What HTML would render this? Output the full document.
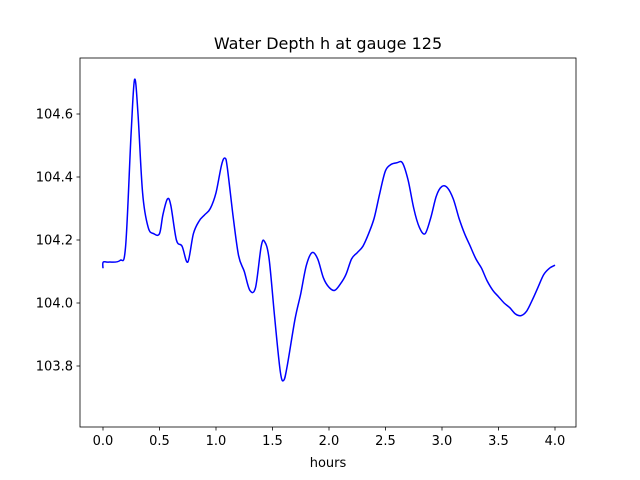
<!DOCTYPE html>
<html><head><meta charset="utf-8"><style>body{margin:0;background:#fff}svg{display:block;font-family:"DejaVu Sans","Liberation Sans",sans-serif}</style></head>
<body>
<svg id="chart" width="640" height="480"></svg>
<script>
const times=[0,0.002,0.05,0.15,0.2,0.25,0.28,0.31,0.35,0.4,0.45,0.5,0.53,0.57,0.6,0.65,0.7,0.75,0.8,0.85,0.9,0.95,1.0,1.05,1.08,1.1,1.15,1.2,1.25,1.3,1.35,1.4,1.43,1.47,1.52,1.57,1.6,1.63,1.7,1.75,1.8,1.85,1.9,1.95,2.0,2.05,2.1,2.15,2.2,2.25,2.3,2.35,2.4,2.45,2.5,2.55,2.6,2.65,2.7,2.75,2.8,2.85,2.9,2.95,3.0,3.05,3.1,3.15,3.2,3.25,3.3,3.35,3.4,3.45,3.5,3.55,3.6,3.65,3.7,3.75,3.8,3.85,3.9,3.95,4.0];
const depths=[104.11,104.13,104.13,104.135,104.18,104.55,104.71,104.6,104.35,104.24,104.22,104.22,104.28,104.33,104.31,104.2,104.18,104.13,104.22,104.26,104.28,104.30,104.35,104.44,104.46,104.43,104.28,104.15,104.10,104.04,104.05,104.18,104.195,104.14,103.95,103.78,103.755,103.8,103.95,104.03,104.12,104.16,104.14,104.08,104.05,104.04,104.06,104.09,104.14,104.16,104.18,104.22,104.27,104.35,104.42,104.44,104.445,104.445,104.39,104.3,104.24,104.22,104.27,104.34,104.37,104.365,104.33,104.27,104.22,104.18,104.14,104.11,104.07,104.04,104.02,104.00,103.985,103.965,103.96,103.975,104.01,104.05,104.09,104.11,104.12];
const xTicks=[0,0.5,1,1.5,2,2.5,3,3.5,4];
const xTickLabels=["0.0","0.5","1.0","1.5","2.0","2.5","3.0","3.5","4.0"];
const yTicks=[103.8,104.0,104.2,104.4,104.6];
const yTickLabels=["103.8","104.0","104.2","104.4","104.6"];
const L=80,R=576,T=58,B=427;
const xs=v=>103+(v-0)*113;
const ys=v=>366-(v-103.8)*315;
const svg=document.getElementById('chart');const NS='http://www.w3.org/2000/svg';
function mk(t,a,p){const e=document.createElementNS(NS,t);for(const k in a)e.setAttribute(k,a[k]);(p||svg).appendChild(e);return e;}
const clip=mk('clipPath',{id:'c'});mk('rect',{x:L,y:T,width:R-L,height:B-T},clip);
const P=times.map((t,i)=>[xs(t),ys(depths[i])]);
let d='M'+P[0][0].toFixed(1)+','+P[0][1].toFixed(1);
for(let i=0;i<P.length-1;i++){const p0=P[Math.max(0,i-1)],p1=P[i],p2=P[i+1],p3=P[Math.min(P.length-1,i+2)];
const c1=[p1[0]+(p2[0]-p0[0])/6,p1[1]+(p2[1]-p0[1])/6],c2=[p2[0]-(p3[0]-p1[0])/6,p2[1]-(p3[1]-p1[1])/6];
d+='C'+c1[0].toFixed(1)+','+c1[1].toFixed(1)+' '+c2[0].toFixed(1)+','+c2[1].toFixed(1)+' '+p2[0].toFixed(1)+','+p2[1].toFixed(1);}
const line=mk('path',{d:d,fill:'none',stroke:'#0000ff','stroke-width':1.5,'stroke-linejoin':'round','clip-path':'url(#c)'});


const frame=mk('rect',{x:L,y:T,width:R-L,height:B-T,fill:'none',stroke:'#000','stroke-width':0.8});


xTicks.forEach((v,i)=>{const x=xs(v);mk('line',{x1:x,x2:x,y1:B,y2:B+3.5,stroke:'#000','stroke-width':0.8});
const t=mk('text',{x:x,y:B+18,'text-anchor':'middle','font-size':13});t.textContent=xTickLabels[i];

});
yTicks.forEach((v,i)=>{const y=ys(v);mk('line',{x1:L-3.5,x2:L,y1:y,y2:y,stroke:'#000','stroke-width':0.8});
const t=mk('text',{x:L-7,y:y+4.5,'text-anchor':'end','font-size':13});t.textContent=yTickLabels[i];

});
const xl=mk('text',{x:(L+R)/2,y:B+40,'text-anchor':'middle','font-size':13});xl.textContent='hours';


const ti=mk('text',{x:(L+R)/2,y:T-9,'text-anchor':'middle','font-size':16});ti.textContent='Water Depth h at gauge 125';


</script>
</body></html>
